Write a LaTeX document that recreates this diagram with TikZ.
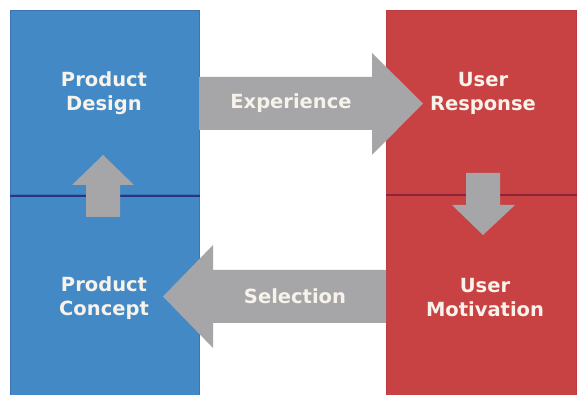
\documentclass[tikz,border=0pt]{standalone}
\usepackage{fontspec}
\setmainfont{DejaVu Sans}
\usepackage{xcolor}
\usetikzlibrary{positioning}
\definecolor{boxblue}{RGB}{66,137,197}
\definecolor{boxred}{RGB}{200,66,68}
\definecolor{arrowgrey}{RGB}{166,166,168}
\definecolor{labelwhite}{RGB}{247,242,234}
\definecolor{lineblue}{RGB}{42,52,128}
\definecolor{linered}{RGB}{140,36,56}

\begin{document}
\begin{tikzpicture}[x=1pt,y=-1pt,
	blue_box/.style={fill=boxblue,draw=boxblue!75!lineblue,line width=0.8pt,minimum width=189pt,minimum height=185pt,anchor=north west,inner sep=0pt},
	red_box/.style={fill=boxred,draw=boxred!80!linered,line width=0.8pt,minimum width=190pt,minimum height=185pt,anchor=north west,inner sep=0pt},
	block_arrow/.style={fill=arrowgrey},
	box_text/.style={text=labelwhite,font=\fontsize{19.5}{24}\selectfont\bfseries,align=center},
	arrow_text/.style={text=labelwhite,font=\fontsize{19.5}{24}\selectfont\bfseries}]
	\useasboundingbox (0,0) rectangle (579,395);
	\fill[white] (0,0) rectangle (579,395);
	% boxes
	\node[blue_box](design_box) at (10,10){};
	\node[blue_box, minimum height=210pt](concept_box) at (10,194){};
	\node[red_box](response_box) at (386,10){};
	\node[red_box, minimum height=210pt](motivation_box) at (386,195){};
	\draw[lineblue, line width=1.6pt] (design_box.south west) -- (design_box.south east);
	\draw[linered, line width=1.6pt] (motivation_box.north west) -- (motivation_box.north east);
	% arrows
	\fill[block_arrow] (199,77) -- (372,77) -- (372,53) -- (423,103.5) -- (372,155) -- (372,130) -- (199,130) -- cycle;
	\fill[block_arrow] (386,270) -- (213,270) -- (213,245) -- (163,296.5) -- (213,348) -- (213,323) -- (386,323) -- cycle;
	\fill[block_arrow] (86,217) -- (86,185) -- (72,185) -- (103,155) -- (134,185) -- (120,185) -- (120,217) -- cycle;
	\fill[block_arrow] (466,173) -- (500,173) -- (500,205) -- (515,205) -- (483,235) -- (452,205) -- (466,205) -- cycle;
	% labels
	\node[box_text](design) at (104,93){Product\\Design};
	\node[box_text](concept) at (104,298){Product\\Concept};
	\node[box_text](response) at (483,93){User\\Response};
	\node[box_text](motivation) at (485,298){User\\Motivation};
	\node[arrow_text](experience) at (291,103){Experience};
	\node[arrow_text](selection) at (295,296){Selection};
\end{tikzpicture}
\end{document}
